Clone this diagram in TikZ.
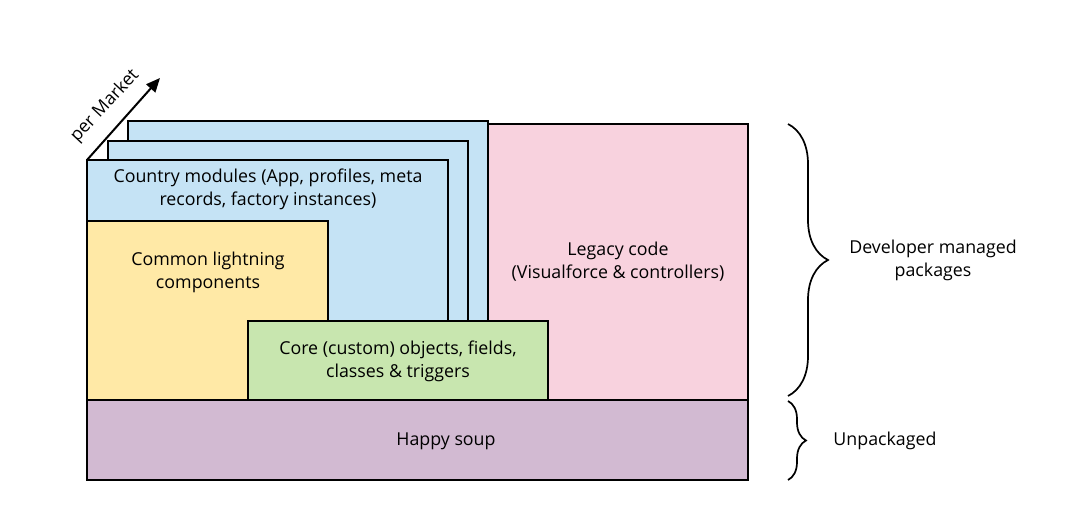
\documentclass[tikz,border=0pt]{standalone}
\usepackage{fontspec}
\setmainfont{Open Sans}
\usetikzlibrary{decorations.pathreplacing,arrows.meta}
\definecolor{cblue}{RGB}{197,227,245}
\definecolor{cyellow}{RGB}{255,233,166}
\definecolor{cgreen}{RGB}{200,230,175}
\definecolor{cpink}{RGB}{248,210,222}
\definecolor{cpurple}{RGB}{210,186,210}
\tikzset{
  box/.style={draw=black,line width=2pt},
  lbl/.style={font=\fontsize{17.8}{23}\selectfont,align=center,text=black,inner sep=1pt},
  bracestyle/.style={draw=black,line width=1.7pt,decorate,decoration={brace,amplitude=#1}},
}
\begin{document}
\begin{tikzpicture}[x=1pt,y=-1pt]
\useasboundingbox (0,0) rectangle (1068,521);
% blue stack
\draw[box,fill=cblue] (128,121) rectangle (488,400);
\draw[box,fill=cblue] (108,141) rectangle (468,400);
\draw[box,fill=cblue] (87,160) rectangle (448,400);
% pink
\draw[box,fill=cpink] (488,124) rectangle (748,400);
% yellow
\draw[box,fill=cyellow] (87,221) rectangle (328,400);
% green
\draw[box,fill=cgreen] (248,321) rectangle (548,400);
% happy soup
\draw[box,fill=cpurple] (87,400) rectangle (748,480);

\node[lbl] (country) at (268,189) {Country modules (App, profiles, meta\\records, factory instances)};
\node[lbl] (common) at (208,272) {Common lightning\\components};
\node[lbl] (core) at (398,361) {Core (custom) objects, fields,\\classes \& triggers};
\node[lbl] (legacy) at (618,262) {Legacy code\\(Visualforce \& controllers)};
\node[lbl] (soup) at (446,441) {Happy soup};

% per market arrow
\coordinate (arrS) at (87,160);
\coordinate (arrE) at (160,78);
\draw[line width=2pt,-{Triangle[length=14pt,width=12pt]}] (arrS) -- (arrE);
\node[lbl,rotate=47] (market) at (105,106) {per Market};

% braces
\coordinate (b1t) at (788,124);
\coordinate (b1b) at (788,396);
\coordinate (b2t) at (788,401);
\coordinate (b2b) at (788,480);
\draw[bracestyle=40pt] (b1t) -- (b1b);
\draw[bracestyle=18pt] (b2t) -- (b2b);
\node[lbl] (dev) at (933,260) {Developer managed\\packages};
\node[lbl] (unpk) at (885,441) {Unpackaged};
\end{tikzpicture}
\end{document}
